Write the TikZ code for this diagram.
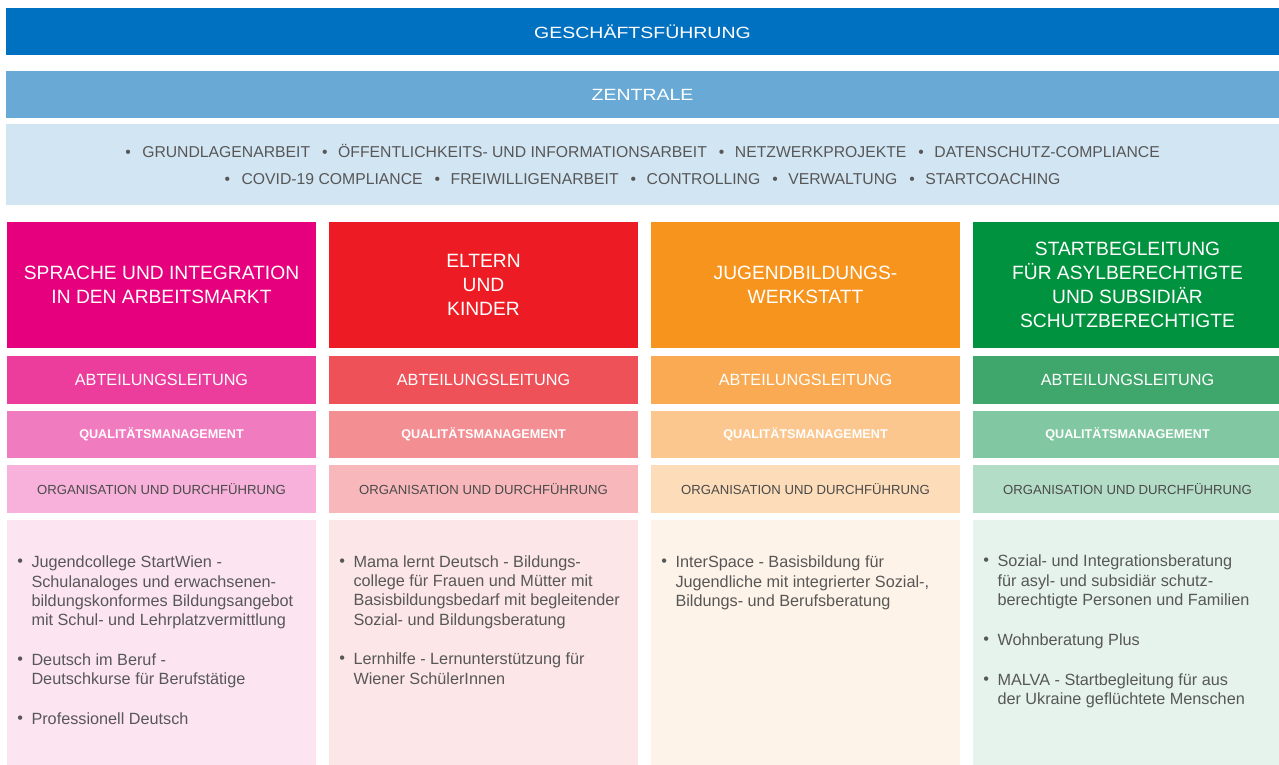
\documentclass[tikz,border=0pt]{standalone}
\usepackage{fontspec}
\setmainfont{Liberation Sans}
\usepackage{graphicx}
\usetikzlibrary{positioning}

\definecolor{gfblue}{HTML}{0070C0}
\definecolor{zentralblue}{HTML}{68A9D5}
\definecolor{bandblue}{HTML}{D2E5F3}
\definecolor{textgray}{HTML}{575757}
\definecolor{orggray}{HTML}{4A4A4A}
\definecolor{magenta0}{HTML}{E6007E}
\definecolor{magenta1}{HTML}{EC3C9C}
\definecolor{magenta2}{HTML}{F17BBF}
\definecolor{magenta3}{HTML}{F7B1DA}
\definecolor{magenta4}{HTML}{FCE5F1}
\definecolor{red0}{HTML}{ED1C24}
\definecolor{red1}{HTML}{EF5159}
\definecolor{red2}{HTML}{F38E93}
\definecolor{red3}{HTML}{F8B8BB}
\definecolor{red4}{HTML}{FCE6E7}
\definecolor{orange0}{HTML}{F7941D}
\definecolor{orange1}{HTML}{F9AA52}
\definecolor{orange2}{HTML}{FBC78E}
\definecolor{orange3}{HTML}{FDDDB9}
\definecolor{orange4}{HTML}{FEF3E8}
\definecolor{green0}{HTML}{00923F}
\definecolor{green1}{HTML}{3FA76C}
\definecolor{green2}{HTML}{81C7A1}
\definecolor{green3}{HTML}{B3DDC6}
\definecolor{green4}{HTML}{E5F3EC}

\newcommand\titlefont{\fontsize{16.3}{19}\selectfont}
\newcommand\widecaps[1]{\scalebox{1.2}[1]{#1}}
\newcommand\bandfont{\fontsize{15.8}{28}\selectfont}
\newcommand\headfont{\fontsize{19.3}{24}\selectfont}
\newcommand\itemfont{\fontsize{16.3}{19.3}\selectfont}
\newcommand\sepdot{\hspace{12bp}\textbullet\hspace{10.5bp}}
\newcommand\itemdot{\makebox[0pt][r]{\raisebox{1bp}{\textbullet}\hspace{8.5bp}}}

\tikzset{box/.style={fill=#1,inner sep=0pt,outer sep=0pt,minimum width=309bp},
bar/.style={fill=#1,inner sep=0pt,outer sep=0pt,minimum width=1273bp,minimum height=47bp,text=white,font=\titlefont},
head/.style={box=#1,minimum height=126bp,align=center,text=white,font=\headfont},
lead/.style={box=#1,minimum height=48bp,text=white,font=\fontsize{16.3}{19}\selectfont},
qm/.style={box=#1,minimum height=47bp,text=white,font=\fontsize{12.7}{15}\selectfont\bfseries},
org/.style={box=#1,minimum height=48bp,text=orggray,font=\fontsize{13.2}{16}\selectfont},
content/.style={box=#1,minimum height=250bp},
items/.style={inner sep=0pt,outer sep=0pt,align=left,text=textgray,font=\itemfont}}

\begin{document}
\begin{tikzpicture}[x=1bp,y=-1bp]
\useasboundingbox[fill=white] (0,0) rectangle (1279,765);

\node[bar=gfblue,anchor=north west] (gf) at (6,8) {\widecaps{GESCHÄFTSFÜHRUNG}};
\node[bar=zentralblue,below=16bp of gf] (zentrale) {\widecaps{ZENTRALE}};
\node[bar=bandblue,minimum height=81bp,below=6bp of zentrale,text=textgray,font=\bandfont,align=center] (aufgaben)
  {\textbullet\hspace{11.5bp}GRUNDLAGENARBEIT\sepdot ÖFFENTLICHKEITS- UND INFORMATIONSARBEIT\sepdot NETZWERKPROJEKTE\sepdot DATENSCHUTZ-COMPLIANCE\\
   \textbullet\hspace{11.5bp}COVID-19 COMPLIANCE\sepdot FREIWILLIGENARBEIT\sepdot CONTROLLING\sepdot VERWALTUNG\sepdot STARTCOACHING};

% Abteilungen
\node[head=magenta0,anchor=north west] (sprache) at (7,222) {SPRACHE UND INTEGRATION\\IN DEN ARBEITSMARKT};
\node[head=red0,right=13bp of sprache] (eltern) {ELTERN\\UND\\KINDER};
\node[head=orange0,right=13bp of eltern] (jugend) {JUGENDBILDUNGS-\\WERKSTATT};
\node[head=green0,right=13bp of jugend] (start) {STARTBEGLEITUNG\\FÜR ASYLBERECHTIGTE\\UND SUBSIDIÄR\\SCHUTZBERECHTIGTE};

\node[lead=magenta1,below=8bp of sprache] (sprache-al) {ABTEILUNGSLEITUNG};
\node[qm=magenta2,below=7bp of sprache-al] (sprache-qm) {QUALITÄTSMANAGEMENT};
\node[org=magenta3,below=7bp of sprache-qm] (sprache-org) {ORGANISATION UND DURCHFÜHRUNG};
\node[content=magenta4,below=7bp of sprache-org] (sprache-box) {};

\node[lead=red1,below=8bp of eltern] (eltern-al) {ABTEILUNGSLEITUNG};
\node[qm=red2,below=7bp of eltern-al] (eltern-qm) {QUALITÄTSMANAGEMENT};
\node[org=red3,below=7bp of eltern-qm] (eltern-org) {ORGANISATION UND DURCHFÜHRUNG};
\node[content=red4,below=7bp of eltern-org] (eltern-box) {};

\node[lead=orange1,below=8bp of jugend] (jugend-al) {ABTEILUNGSLEITUNG};
\node[qm=orange2,below=7bp of jugend-al] (jugend-qm) {QUALITÄTSMANAGEMENT};
\node[org=orange3,below=7bp of jugend-qm] (jugend-org) {ORGANISATION UND DURCHFÜHRUNG};
\node[content=orange4,below=7bp of jugend-org] (jugend-box) {};

\node[lead=green1,below=8bp of start] (start-al) {ABTEILUNGSLEITUNG};
\node[qm=green2,below=7bp of start-al] (start-qm) {QUALITÄTSMANAGEMENT};
\node[org=green3,below=7bp of start-qm] (start-org) {ORGANISATION UND DURCHFÜHRUNG};
\node[content=green4,below=7bp of start-org] (start-box) {};

% Projekte
\node[items,below right=34.5bp and 24.5bp of sprache-box.north west] (sprache-list)
  {\itemdot\strut Jugendcollege StartWien -\\Schulanaloges und erwachsenen-\\bildungskonformes Bildungsangebot\\mit Schul- und Lehrplatzvermittlung\\[20.6bp]
   \itemdot Deutsch im Beruf -\\Deutschkurse für Berufstätige\\[20.2bp]
   \itemdot Professionell Deutsch};
\node[items,below right=34bp and 24.5bp of eltern-box.north west] (eltern-list)
  {\itemdot\strut Mama lernt Deutsch - Bildungs-\\college für Frauen und Mütter mit\\Basisbildungsbedarf mit begleitender\\Sozial- und Bildungsberatung\\[20.4bp]
   \itemdot Lernhilfe - Lernunterstützung für\\Wiener SchülerInnen};
\node[items,below right=34.5bp and 24.5bp of jugend-box.north west] (jugend-list)
  {\itemdot\strut InterSpace - Basisbildung für\\Jugendliche mit integrierter Sozial-,\\Bildungs- und Berufsberatung};
\node[items,below right=33.5bp and 24.5bp of start-box.north west] (start-list)
  {\itemdot\strut Sozial- und Integrationsberatung\\für asyl- und subsidiär schutz-\\berechtigte Personen und Familien\\[20.6bp]
   \itemdot Wohnberatung Plus\\[20.6bp]
   \itemdot MALVA - Startbegleitung für aus\\der Ukraine geflüchtete Menschen};
\end{tikzpicture}
\end{document}
